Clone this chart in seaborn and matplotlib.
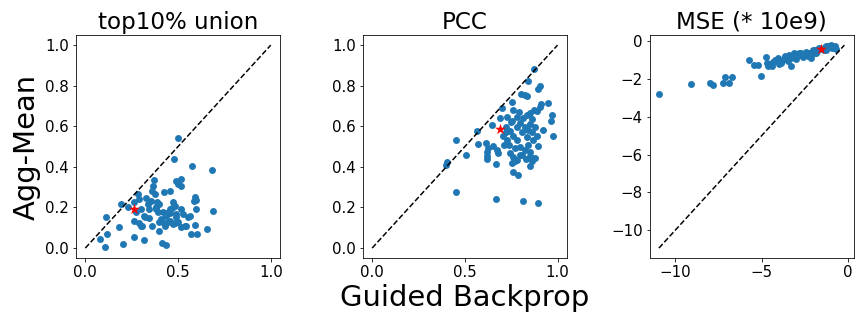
import numpy as np
import pandas as pd
import seaborn as sns
import matplotlib
matplotlib.use("Agg")
import matplotlib.pyplot as plt

# top10% union : guided backprop (x) vs agg-mean (y)
union_gb = [0.50, 0.48, 0.575, 0.685, 0.37, 0.49, 0.518, 0.50, 0.514, 0.364,
            0.361, 0.374, 0.424, 0.455, 0.283, 0.292, 0.329, 0.356, 0.388, 0.40,
            0.473, 0.482, 0.467, 0.59, 0.596, 0.585, 0.193, 0.229, 0.301, 0.319,
            0.379, 0.419, 0.437, 0.41, 0.455, 0.518, 0.527, 0.554, 0.563, 0.599,
            0.686, 0.491, 0.50, 0.518, 0.473, 0.455, 0.40, 0.428, 0.361, 0.397,
            0.265, 0.301, 0.59, 0.545, 0.657, 0.572, 0.603, 0.184, 0.265, 0.314,
            0.202, 0.415, 0.433, 0.11, 0.116, 0.078, 0.105, 0.34, 0.26, 0.274,
            0.32, 0.343, 0.292, 0.307, 0.41, 0.448, 0.426, 0.482, 0.54, 0.433,
            0.458, 0.39, 0.345, 0.38, 0.49]
union_agg = [0.54, 0.44, 0.405, 0.387, 0.335, 0.333, 0.341, 0.316, 0.304, 0.304,
             0.283, 0.267, 0.275, 0.283, 0.267, 0.242, 0.245, 0.234, 0.229, 0.217,
             0.229, 0.209, 0.196, 0.25, 0.237, 0.23, 0.217, 0.20, 0.193, 0.16,
             0.20, 0.176, 0.16, 0.143, 0.193, 0.193, 0.168, 0.151, 0.16, 0.193,
             0.184, 0.151, 0.127, 0.102, 0.119, 0.135, 0.127, 0.11, 0.11, 0.086,
             0.135, 0.11, 0.114, 0.11, 0.094, 0.069, 0.069, 0.102, 0.056, 0.041,
             0.02, 0.025, 0.016, 0.155, 0.069, 0.044, 0.003, 0.217, 0.226, 0.176,
             0.152, 0.148, 0.122, 0.109, 0.138, 0.13, 0.122, 0.122, 0.11, 0.171,
             0.171, 0.18, 0.195, 0.193, 0.168]
union_mean = (0.265, 0.193)

# PCC
pcc_gb = [0.874, 0.84, 0.903, 0.897, 0.804, 0.825, 0.834, 0.757, 0.951, 0.91,
          0.903, 0.699, 0.762, 0.791, 0.874, 0.888, 0.852, 0.834, 0.971, 0.726,
          0.78, 0.816, 0.861, 0.753, 0.966, 0.798, 0.849, 0.647, 0.722, 0.78,
          0.825, 0.879, 0.568, 0.919, 0.744, 0.807, 0.861, 0.708, 0.978, 0.762,
          0.834, 0.888, 0.452, 0.726, 0.78, 0.87, 0.614, 0.571, 0.74, 0.897,
          0.654, 0.798, 0.843, 0.773, 0.627, 0.825, 0.672, 0.621, 0.852, 0.744,
          0.681, 0.798, 0.508, 0.621, 0.852, 0.762, 0.621, 0.879, 0.78, 0.753,
          0.405, 0.396, 0.668, 0.854, 0.759, 0.789, 0.454, 0.668, 0.814, 0.892,
          0.72, 0.81, 0.83, 0.77, 0.86, 0.71, 0.75, 0.69, 0.84]
pcc_agg = [0.88, 0.825, 0.798, 0.782, 0.759, 0.754, 0.751, 0.72, 0.713, 0.71,
           0.693, 0.689, 0.68, 0.669, 0.68, 0.677, 0.664, 0.656, 0.656, 0.648,
           0.644, 0.639, 0.634, 0.626, 0.626, 0.615, 0.611, 0.607, 0.598, 0.598,
           0.595, 0.598, 0.577, 0.582, 0.577, 0.57, 0.574, 0.552, 0.552, 0.552,
           0.549, 0.552, 0.533, 0.533, 0.533, 0.533, 0.52, 0.511, 0.508, 0.503,
           0.503, 0.50, 0.508, 0.492, 0.492, 0.484, 0.484, 0.475, 0.475, 0.467,
           0.467, 0.459, 0.459, 0.454, 0.454, 0.451, 0.438, 0.443, 0.434, 0.418,
           0.423, 0.407, 0.413, 0.405, 0.377, 0.359, 0.275, 0.241, 0.231, 0.221,
           0.57, 0.46, 0.44, 0.43, 0.43, 0.51, 0.62, 0.64, 0.58]
pcc_mean = (0.69, 0.587)

# MSE (* 10e9)
mse_gb = [-10.95, -9.09, -7.97, -7.82, -7.24, -7.12, -6.89, -6.7, -5.75, -5.44,
          -5.21, -5.04, -4.77, -4.67, -4.4, -4.63, -4.34, -4.05, -3.86, -3.63,
          -3.47, -3.32, -3.15, -3.0, -2.84, -2.61, -2.41, -2.22, -2.16, -2.03,
          -1.87, -1.74, -1.35, -1.16, -0.97, -0.77, -0.68, -1.25, -4.5, -4.2,
          -3.9, -3.7, -3.5, -3.3, -3.1, -2.95, -2.8, -2.7, -2.5, -2.35,
          -2.3, -2.1, -1.95, -1.8, -1.65, -1.5, -1.4, -1.2, -1.05, -0.9,
          -0.8, -3.0, -2.6, -4.0, -3.4, -2.2, -1.9, -1.3]
mse_agg = [-2.81, -2.28, -2.21, -2.33, -2.23, -1.91, -2.19, -1.91, -1.02, -1.26,
           -1.26, -1.86, -0.84, -1.14, -1.32, -1.32, -1.09, -0.91, -1.09, -0.77,
           -1.04, -1.32, -0.65, -0.79, -0.61, -0.74, -0.56, -0.65, -0.91, -0.47,
           -0.65, -0.39, -0.30, -0.26, -0.21, -0.25, -0.44, -0.47, -1.2, -1.0,
           -1.15, -0.95, -0.85, -0.9, -0.8, -0.7, -0.75, -0.65, -0.7, -0.6,
           -0.8, -0.55, -0.6, -0.5, -0.35, -0.4, -0.45, -0.35, -0.3, -0.35,
           -0.3, -0.95, -0.85, -1.2, -0.75, -0.7, -0.45, -0.25]
mse_mean = (-1.58, -0.44)

panels = [
    ("top10% union", union_gb, union_agg, union_mean),
    ("PCC", pcc_gb, pcc_agg, pcc_mean),
    ("MSE (* 10e9)", mse_gb, mse_agg, mse_mean),
]

fig, axes = plt.subplots(1, 3, figsize=(12, 4.5), dpi=72)
fig.subplots_adjust(left=0.088, right=0.988, bottom=0.203, top=0.892, wspace=0.406)

for ax, (title, gb, agg, mean) in zip(axes, panels):
    df = pd.DataFrame({"gb": gb, "agg": agg})
    if title == "MSE (* 10e9)":
        lo = min(df.min().min(), mean[0])
        hi = max(df.max().max(), mean[0])
        diag = [lo, hi]
    else:
        diag = [0, 1]
    sns.lineplot(x=diag, y=diag, color="black", linestyle="--", linewidth=1.5, ax=ax)
    sns.scatterplot(data=df, x="gb", y="agg", color="#1f77b4", s=48, linewidth=0, ax=ax)
    sns.scatterplot(x=[mean[0]], y=[mean[1]], marker="*", color="red", s=130, linewidth=0, ax=ax)
    ax.set_title(title, fontsize=23)
    ax.set_xlabel("")
    ax.set_ylabel("")
    ax.tick_params(labelsize=15)

axes[0].set_ylabel("Agg-Mean", fontsize=29)
axes[1].set_xlabel("Guided Backprop", fontsize=29)
axes[2].set_xticks([-10, -5, 0])

plt.savefig("out.png", dpi=72)
